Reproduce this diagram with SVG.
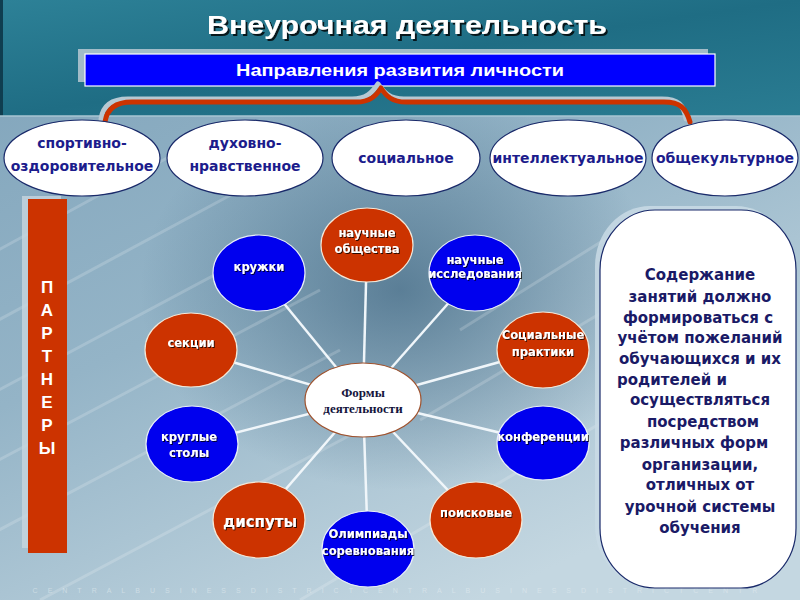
<svg xmlns="http://www.w3.org/2000/svg" width="800" height="600" viewBox="0 0 800 600">
<defs>
  <linearGradient id="topBg" x1="0" y1="0" x2="1" y2="1">
    <stop offset="0" stop-color="#2d8197"/>
    <stop offset="0.5" stop-color="#1f6d84"/>
    <stop offset="1" stop-color="#2a7c92"/>
  </linearGradient>
  <linearGradient id="lowBg" x1="0" y1="0" x2="0.6" y2="1">
    <stop offset="0" stop-color="#7fa3ba"/>
    <stop offset="0.5" stop-color="#94b4c7"/>
    <stop offset="1" stop-color="#c4d7e1"/>
  </linearGradient>
  <radialGradient id="darkSpot" cx="0.5" cy="0.5" r="0.5">
    <stop offset="0" stop-color="#3f6580" stop-opacity="0.7"/>
    <stop offset="1" stop-color="#3f6580" stop-opacity="0"/>
  </radialGradient>
  <filter id="sh" x="-10%" y="-10%" width="120%" height="130%">
    <feDropShadow dx="1" dy="1" stdDeviation="0.4" flood-color="#000" flood-opacity="0.8"/>
  </filter>
  <filter id="shT" x="-5%" y="-20%" width="110%" height="150%">
    <feDropShadow dx="2" dy="2" stdDeviation="0.6" flood-color="#000" flood-opacity="0.8"/>
  </filter>
</defs>
<style>
  .dir { fill: #ffffff; stroke: #1a2a6a; stroke-width: 1.2; }
  .dirT { font-family: "DejaVu Sans", Verdana, sans-serif; font-weight: bold; font-size: 14px; fill: #1c1c8c; text-anchor: middle; }
  .red { fill: #cc3300; stroke: #f4e8d8; stroke-width: 1.2; }
  .blue { fill: #0000ee; stroke: #e8eef8; stroke-width: 1.2; }
  .ct { font-family: "DejaVu Sans", Verdana, sans-serif; font-weight: bold; font-size: 11.5px; fill: #ffffff; text-anchor: middle; filter: url(#sh); }
  .cen { font-family: "Liberation Serif", "Times New Roman", serif; font-weight: bold; font-size: 13px; fill: #14143c; text-anchor: middle; }
  .conn line { stroke: #f0f6fa; stroke-width: 2.5; }
  .pt { font-family: "Liberation Sans", Arial, sans-serif; font-weight: bold; font-size: 17px; fill: #ffffff; text-anchor: middle; }
  .rt { font-family: "DejaVu Sans", Verdana, sans-serif; font-weight: bold; font-size: 15px; fill: #1a1a66; text-anchor: middle; }
  .stripe { stroke: #ffffff; stroke-opacity: 0.18; stroke-width: 3; }
</style>

<!-- background -->
<rect x="0" y="0" width="800" height="600" fill="url(#lowBg)"/>
<ellipse cx="400" cy="290" rx="260" ry="200" fill="url(#darkSpot)"/>
<g class="stripe">
  <line x1="-20" y1="260" x2="200" y2="140"/>
  <line x1="-20" y1="330" x2="240" y2="190"/>
  <line x1="-20" y1="400" x2="280" y2="240"/>
  <line x1="-20" y1="470" x2="320" y2="290"/>
  <line x1="-20" y1="540" x2="340" y2="350"/>
  <line x1="40" y1="600" x2="360" y2="430"/>
  <line x1="460" y1="330" x2="620" y2="230"/>
  <line x1="420" y1="420" x2="640" y2="290"/>
  <line x1="300" y1="600" x2="640" y2="400"/>
</g>
<rect x="0" y="0" width="800" height="116" fill="url(#topBg)"/>
<rect x="0" y="0" width="3" height="116" fill="#0f3e50"/>
<line x1="0" y1="116" x2="800" y2="116" stroke="#a9c6d3" stroke-width="1.5"/>
<text x="400" y="593" font-family="Liberation Sans, Arial, sans-serif" font-size="7" fill="#e6eef2" fill-opacity="0.55" text-anchor="middle" letter-spacing="10">CENTRALBUSINESSDISTRICTCENTRALBUSINESSDISTRICTCENTR</text>

<!-- title -->
<g id="title">
  <text x="407" y="34" font-family="Liberation Sans, Arial, sans-serif" font-weight="bold" font-size="26" fill="#ffffff" text-anchor="middle" textLength="400" lengthAdjust="spacingAndGlyphs" filter="url(#shT)">Внеурочная деятельность</text>
</g>

<!-- header bar -->
<g id="header">
  <rect x="78" y="49" width="630" height="33" fill="#b9c9d2" opacity="0.85"/>
  <rect x="85" y="54" width="630" height="32" fill="#0000ff" stroke="#ffffff" stroke-width="1.2"/>
  <text x="400" y="76" font-family="Liberation Sans, Arial, sans-serif" font-weight="bold" font-size="17" fill="#ffffff" text-anchor="middle" textLength="328" lengthAdjust="spacingAndGlyphs">Направления развития личности</text>
</g>

<!-- brace -->
<g id="brace" fill="none" stroke-linecap="round" stroke-linejoin="round">
  <path d="M101,119 C103,105 113,99 128,99 L352,99 C366,99 372,93 378,84 C384,93 390,99 404,99 L662,99 C678,99 684,105 686,119" stroke="#b7c9d3" stroke-width="5"/>
  <path d="M105,122 C107,108 117,102 132,102 L356,102 C370,102 376,96 381,88 C386,96 392,102 406,102 L664,102 C680,102 686,108 690,122" stroke="#cc3300" stroke-width="5"/>
</g>

<!-- directions -->
<g id="dir1"><ellipse class="dir" cx="82" cy="158" rx="78" ry="38"/><text class="dirT" x="82" y="148">спортивно-</text><text class="dirT" x="82" y="171">оздоровительное</text></g>
<g id="dir2"><ellipse class="dir" cx="245" cy="158" rx="78" ry="38"/><text class="dirT" x="245" y="148">духовно-</text><text class="dirT" x="245" y="171">нравственное</text></g>
<g id="dir3"><ellipse class="dir" cx="406" cy="158" rx="74" ry="38"/><text class="dirT" x="406" y="163">социальное</text></g>
<g id="dir4"><ellipse class="dir" cx="568" cy="158" rx="78" ry="38"/><text class="dirT" x="568" y="163">интеллектуальное</text></g>
<g id="dir5"><ellipse class="dir" cx="725" cy="158" rx="73" ry="38"/><text class="dirT" x="725" y="163">общекультурное</text></g>

<!-- partners -->
<g id="partners">
  <rect x="22" y="196" width="39" height="352" fill="#c7d6de" opacity="0.8"/>
  <rect x="28" y="199" width="39" height="354" fill="#cc3300"/>
  <text class="pt" x="47" y="293">П</text>
  <text class="pt" x="47" y="316">А</text>
  <text class="pt" x="47" y="339">Р</text>
  <text class="pt" x="47" y="362">Т</text>
  <text class="pt" x="47" y="385">Н</text>
  <text class="pt" x="47" y="408">Е</text>
  <text class="pt" x="47" y="431">Р</text>
  <text class="pt" x="47" y="454">Ы</text>
</g>

<!-- connectors -->
<g id="connectors" class="conn">
  <line x1="363" y1="400" x2="367" y2="245"/>
  <line x1="363" y1="400" x2="259" y2="273"/>
  <line x1="363" y1="400" x2="475" y2="273"/>
  <line x1="363" y1="400" x2="191" y2="350"/>
  <line x1="363" y1="400" x2="543" y2="350"/>
  <line x1="363" y1="400" x2="192" y2="444"/>
  <line x1="363" y1="400" x2="543" y2="443"/>
  <line x1="363" y1="400" x2="259" y2="520"/>
  <line x1="363" y1="400" x2="476" y2="520"/>
  <line x1="363" y1="400" x2="368" y2="549"/>
</g>

<!-- forms -->
<g id="n-obsh"><ellipse class="red" cx="367" cy="245" rx="46" ry="37"/><text class="ct" x="367" y="237">научные</text><text class="ct" x="367" y="253">общества</text></g>
<g id="n-kruzhki"><ellipse class="blue" cx="259" cy="273" rx="46" ry="38"/><text class="ct" x="259" y="271">кружки</text></g>
<g id="n-issl"><ellipse class="blue" cx="475" cy="273" rx="46" ry="38"/><text class="ct" x="475" y="264">научные</text><text class="ct" x="475" y="278">исследования</text></g>
<g id="n-sekcii"><ellipse class="red" cx="191" cy="350" rx="46" ry="37"/><text class="ct" x="191" y="347">секции</text></g>
<g id="n-soc"><ellipse class="red" cx="543" cy="350" rx="46" ry="38"/><text class="ct" x="543" y="339">Социальные</text><text class="ct" x="543" y="356">практики</text></g>
<g id="n-krug"><ellipse class="blue" cx="192" cy="444" rx="46" ry="38"/><text class="ct" x="189" y="441">круглые</text><text class="ct" x="189" y="457">столы</text></g>
<g id="n-konf"><ellipse class="blue" cx="543" cy="443" rx="46" ry="37"/><text class="ct" x="543" y="441">конференции</text></g>
<g id="n-disp"><ellipse class="red" cx="259" cy="520" rx="46" ry="38"/><text class="ct" x="260" y="527" style="font-size:15px">диспуты</text></g>
<g id="n-poisk"><ellipse class="red" cx="476" cy="520" rx="46" ry="38"/><text class="ct" x="476" y="517">поисковые</text></g>
<g id="n-olimp"><ellipse class="blue" cx="368" cy="549" rx="46" ry="38"/><text class="ct" x="368" y="538">Олимпиады</text><text class="ct" x="368" y="555">соревнования</text></g>
<g id="n-center"><ellipse cx="363" cy="400" rx="58" ry="37" fill="#ffffff" stroke="#a0522d" stroke-width="1.2"/><text class="cen" x="363" y="397">Формы</text><text class="cen" x="363" y="413">деятельности</text></g>

<!-- right panel -->
<g id="content">
  <rect x="595" y="206" width="196" height="380" rx="55" ry="60" fill="#c9dbe5" opacity="0.85"/>
  <rect x="600" y="210" width="196" height="378" rx="55" ry="60" fill="#ffffff" stroke="#1a2a6a" stroke-width="1.2"/>
  <text class="rt" x="700" y="280">Содержание</text>
  <text class="rt" x="700" y="302">занятий должно</text>
  <text class="rt" x="698" y="323">формироваться с</text>
  <text class="rt" x="700" y="343">учётом пожеланий</text>
  <text class="rt" x="700" y="364">обучающихся и их</text>
  <text class="rt" x="672" y="385">родителей  и</text>
  <text class="rt" x="700" y="405">осуществляться</text>
  <text class="rt" x="703" y="427">посредством</text>
  <text class="rt" x="694" y="448">различных форм</text>
  <text class="rt" x="700" y="470">организации,</text>
  <text class="rt" x="700" y="490">отличных от</text>
  <text class="rt" x="700" y="512">урочной системы</text>
  <text class="rt" x="700" y="533">обучения</text>
</g>
</svg>
